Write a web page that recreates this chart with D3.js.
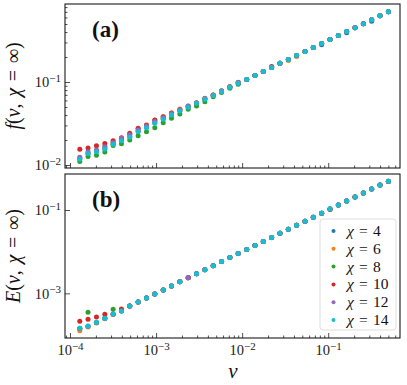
<!DOCTYPE html>
<html>
<head>
<meta charset="utf-8">
<script src="https://cdn.jsdelivr.net/npm/d3@7"></script>
<style>
  html, body { margin: 0; padding: 0; background: #fff; }
  svg { display: block; }
  text { font-family: "Liberation Serif", "DejaVu Serif", serif; }
</style>
</head>
<body>
<script>
// bond dimensions and velocities
const chis = [4, 6, 8, 10, 12, 14];
const v = [0.5, 0.4, 0.32, 0.256, 0.2048, 0.1638, 0.1311, 0.1049, 0.0839, 0.0671,
  0.0537, 0.0429, 0.0344, 0.0275, 0.022, 0.0176, 0.0141, 0.0113, 0.0090, 0.0072,
  0.00576, 0.00461, 0.00369, 0.00295, 0.00236, 0.00189, 0.00151, 0.00121, 0.000967, 0.000774,
  0.000619, 0.000495, 0.000396, 0.000317, 0.000254, 0.000203, 0.000162, 0.00013];

// panel (a): f(v, chi = inf)
const f4 = [0.703, 0.628, 0.540, 0.503, 0.452, 0.392, 0.364, 0.326, 0.282, 0.260,
  0.233, 0.209, 0.187, 0.168, 0.150, 0.134, 0.120, 0.107, 0.0968, 0.0866,
  0.0775, 0.0692, 0.0625, 0.0556, 0.0500, 0.0452, 0.0404, 0.0360, 0.0322, 0.0285,
  0.0255, 0.0220, 0.0198, 0.0180, 0.0158, 0.0146, 0.0137, 0.0120];
const f6 = [0.703, 0.628, 0.562, 0.503, 0.452, 0.406, 0.364, 0.326, 0.292, 0.260,
  0.233, 0.203, 0.182, 0.168, 0.150, 0.134, 0.120, 0.107, 0.0991, 0.0878,
  0.0786, 0.0697, 0.0637, 0.0564, 0.0510, 0.0473, 0.0427, 0.0382, 0.0346, 0.0300,
  0.0272, 0.0236, 0.0208, 0.0188, 0.0168, 0.0150, 0.0140, 0.0122];
const f8 = [0.703, 0.628, 0.562, 0.503, 0.452, 0.406, 0.364, 0.326, 0.292, 0.260,
  0.233, 0.209, 0.187, 0.168, 0.150, 0.134, 0.120, 0.107, 0.0940, 0.0840,
  0.0748, 0.0665, 0.0580, 0.0514, 0.0469, 0.0411, 0.0365, 0.0324, 0.0281, 0.0252,
  0.0225, 0.0200, 0.0180, 0.0172, 0.0143, 0.0131, 0.0127, 0.0110];
const f10 = [0.703, 0.628, 0.562, 0.503, 0.452, 0.406, 0.364, 0.326, 0.292, 0.260,
  0.233, 0.209, 0.187, 0.168, 0.154, 0.134, 0.120, 0.107, 0.0985, 0.0875,
  0.0780, 0.0697, 0.0630, 0.0560, 0.0510, 0.0462, 0.0420, 0.0382, 0.0349, 0.0303,
  0.0277, 0.0241, 0.0213, 0.0196, 0.0182, 0.0171, 0.0160, 0.0155];
const f12 = [0.703, 0.628, 0.562, 0.503, 0.452, 0.406, 0.364, 0.326, 0.292, 0.260,
  0.233, 0.209, 0.187, 0.168, 0.150, 0.134, 0.120, 0.107, 0.0985, 0.0875,
  0.0780, 0.0690, 0.0630, 0.0560, 0.0514, 0.0460, 0.0415, 0.0370, 0.0335, 0.0295,
  0.0265, 0.0232, 0.0210, 0.0186, 0.0166, 0.0152, 0.01445, 0.0124];
const f14 = [0.703, 0.628, 0.562, 0.503, 0.452, 0.406, 0.364, 0.326, 0.292, 0.260,
  0.233, 0.209, 0.187, 0.168, 0.150, 0.134, 0.120, 0.107, 0.0965, 0.0862,
  0.0770, 0.0690, 0.0620, 0.0553, 0.0496, 0.0448, 0.0400, 0.0356, 0.0318, 0.0281,
  0.0252, 0.0216, 0.0196, 0.0178, 0.0156, 0.01445, 0.0138, 0.0117];

// panel (b): E(v, chi = inf)
const e4 = [0.490, 0.400, 0.320, 0.256, 0.205, 0.164, 0.131, 0.103, 0.084, 0.067,
  0.0537, 0.0430, 0.0344, 0.0275, 0.0220, 0.0176, 0.0141, 0.0113, 0.0090, 0.0072,
  0.00577, 0.00461, 0.00369, 0.00295, 0.00236, 0.00189, 0.00151, 0.00121, 0.00097, 0.00077,
  0.00062, 0.000495, 0.000376, 0.000315, 0.000250, 0.000200, 0.000160, 0.000140];
const e6 = [0.485, 0.400, 0.320, 0.252, 0.205, 0.164, 0.131, 0.105, 0.084, 0.067,
  0.0537, 0.0430, 0.0344, 0.0275, 0.0217, 0.0176, 0.0141, 0.0113, 0.0090, 0.0072,
  0.00577, 0.00461, 0.00369, 0.00295, 0.00236, 0.00189, 0.00151, 0.00121, 0.00097, 0.00077,
  0.00062, 0.000495, 0.000380, 0.000310, 0.000245, 0.000195, 0.000155, 0.000127];
const e8 = [0.490, 0.400, 0.320, 0.256, 0.205, 0.164, 0.131, 0.105, 0.084, 0.067,
  0.0537, 0.0430, 0.0344, 0.0275, 0.0220, 0.0176, 0.0141, 0.0113, 0.0090, 0.0072,
  0.00577, 0.00461, 0.00369, 0.00295, 0.00236, 0.00189, 0.00151, 0.00121, 0.00097, 0.00077,
  0.00062, 0.000495, 0.000380, 0.000413, 0.000255, 0.000200, 0.000350, 0.000145];
const e10 = [0.485, 0.400, 0.320, 0.256, 0.205, 0.164, 0.131, 0.105, 0.084, 0.067,
  0.0537, 0.0430, 0.0344, 0.0275, 0.0220, 0.0176, 0.0141, 0.0113, 0.0090, 0.0072,
  0.00577, 0.00461, 0.00369, 0.00295, 0.00236, 0.00189, 0.00151, 0.00121, 0.00097, 0.00077,
  0.00062, 0.000495, 0.000420, 0.000320, 0.000313, 0.000270, 0.000238, 0.000213];
const e12 = [0.490, 0.400, 0.320, 0.256, 0.205, 0.164, 0.131, 0.105, 0.084, 0.067,
  0.0537, 0.0430, 0.0344, 0.0275, 0.0220, 0.0176, 0.0141, 0.0113, 0.0090, 0.0072,
  0.00577, 0.00461, 0.00369, 0.00295, 0.00236, 0.00189, 0.00151, 0.00121, 0.00097, 0.00077,
  0.00062, 0.000495, 0.000376, 0.000319, 0.000250, 0.000200, 0.000162, 0.000143];
const e14 = [0.490, 0.400, 0.320, 0.256, 0.205, 0.164, 0.131, 0.107, 0.084, 0.067,
  0.0537, 0.0430, 0.0344, 0.0275, 0.0220, 0.0176, 0.0141, 0.0113, 0.0090, 0.0072,
  0.00577, 0.00461, 0.00369, 0.00295, null, 0.00189, 0.00151, 0.00121, 0.00097, 0.00077,
  0.00062, 0.000495, 0.000376, 0.000319, 0.000251, 0.000202, 0.000164, 0.000145];

const xMajor = [1e-4, 1e-3, 1e-2, 1e-1];
const yMajorA = [1e-2, 1e-1];
const yMajorB = [1e-3, 1e-1];

const colors = ['#1f77b4', '#ff7f0e', '#2ca02c', '#d62728', '#9467bd', '#17becf'];
const W = 407, H = 385;
const left = 65, right = 400;
const fontFam = '"Liberation Serif", "DejaVu Serif", serif';

const svg = d3.select('body').append('svg').attr('width', W).attr('height', H);

const x = d3.scaleLog().domain([10 ** -4.058, 10 ** -0.166]).range([left, right]);

function minorTicks(lo, hi) {
  const out = [];
  for (let d = Math.floor(Math.log10(lo)); d <= Math.ceil(Math.log10(hi)); d++) {
    for (let m = 2; m <= 9; m++) {
      const t = m * 10 ** d;
      if (t > lo && t < hi) out.push(t);
    }
  }
  return out;
}

function supLabels(g) {
  g.selectAll('.tick text').each(function (d) {
    const t = d3.select(this);
    const p = Math.round(Math.log10(d));
    t.text(null);
    t.append('tspan').text('10');
    t.append('tspan').attr('dy', '-0.5em').attr('font-size', '11px').text('\u2212' + (-p));
  });
}

function drawPanel(cfg) {
  const { top, bottom, y, series, yMajor, yMinor, xLabels } = cfg;
  const g = svg.append('g');

  // points, chi=4 first so chi=14 ends on top
  series.forEach((vals, i) => {
    g.append('g').selectAll('circle')
      .data(vals.map((val, k) => [v[k], val]).filter(p => p[1] != null))
      .join('circle')
      .attr('cx', d => x(d[0]))
      .attr('cy', d => y(d[1]))
      .attr('r', 2.5)
      .attr('fill', colors[i]);
  });

  const xAxis = g.append('g')
    .attr('transform', `translate(0,${bottom})`)
    .call(d3.axisBottom(x).tickValues(xMajor).tickSizeInner(-5).tickSizeOuter(0).tickPadding(7));
  g.append('g')
    .attr('transform', `translate(0,${bottom})`)
    .call(d3.axisBottom(x).tickValues(minorTicks(...x.domain())).tickSizeInner(-2.5).tickSizeOuter(0).tickFormat(''));

  const yAxis = g.append('g')
    .attr('transform', `translate(${left},0)`)
    .call(d3.axisLeft(y).tickValues(yMajor).tickSizeInner(-5).tickSizeOuter(0).tickPadding(4));
  if (yMinor) {
    g.append('g')
      .attr('transform', `translate(${left},0)`)
      .call(d3.axisLeft(y).tickValues(minorTicks(...y.domain())).tickSizeInner(-2.5).tickSizeOuter(0).tickFormat(''));
  }

  g.selectAll('.domain').remove();
  g.selectAll('.tick line').attr('stroke', '#222').attr('stroke-width', 0.8);

  yAxis.attr('font-family', fontFam).attr('font-size', 14.5);
  yAxis.selectAll('.tick text').attr('fill', '#222').attr('dy', '0.33em');
  supLabels(yAxis);

  if (xLabels) {
    xAxis.attr('font-family', fontFam).attr('font-size', 14.5);
    xAxis.selectAll('.tick text').attr('fill', '#222').attr('dy', '0.72em');
    supLabels(xAxis);
  } else {
    xAxis.selectAll('.tick text').remove();
  }

  g.append('rect')
    .attr('x', left).attr('y', top)
    .attr('width', right - left).attr('height', bottom - top)
    .attr('fill', 'none')
    .attr('stroke', '#1a1a1a')
    .attr('stroke-width', 1.1);

  return g;
}

const yA = d3.scaleLog().domain([10 ** -2.036, 10 ** -0.060]).range([168, 4]);
const yB = d3.scaleLog().domain([10 ** -4.072, 10 ** -0.136]).range([338, 174]);

drawPanel({ top: 4, bottom: 168, y: yA, series: [f4, f6, f8, f10, f12, f14], yMajor: yMajorA, yMinor: true, xLabels: false });
drawPanel({ top: 174, bottom: 338, y: yB, series: [e4, e6, e8, e10, e12, e14], yMajor: yMajorB, yMinor: false, xLabels: true });

// panel tags
svg.append('text').attr('x', 92).attr('y', 37)
  .attr('font-size', 23).attr('font-weight', 'bold').attr('fill', '#111').text('(a)');
svg.append('text').attr('x', 92).attr('y', 207)
  .attr('font-size', 23).attr('font-weight', 'bold').attr('fill', '#111').text('(b)');

// axis titles
const sp = '\u2004';
function yTitle(letter, cy) {
  const t = svg.append('text')
    .attr('transform', `translate(20,${cy}) rotate(-90)`)
    .attr('text-anchor', 'middle')
    .attr('font-size', 20).attr('fill', '#111');
  t.append('tspan').attr('font-style', 'italic').text(letter);
  t.append('tspan').text('(');
  t.append('tspan').attr('font-style', 'italic').text('v');
  t.append('tspan').text(',' + sp);
  t.append('tspan').attr('font-style', 'italic').text('\u03c7');
  t.append('tspan').text(sp + '=' + sp + '\u221e)');
}
yTitle('f', 86);
yTitle('E', 256);

svg.append('text').attr('x', 233).attr('y', 378)
  .attr('text-anchor', 'middle').attr('font-size', 21)
  .attr('font-style', 'italic').attr('fill', '#111').text('v');

// legend
const leg = svg.append('g').attr('transform', 'translate(320,219)');
leg.append('rect')
  .attr('width', 76).attr('height', 111).attr('rx', 3)
  .attr('fill', '#fff').attr('fill-opacity', 0.8)
  .attr('stroke', '#d6d6d6').attr('stroke-width', 0.8);
chis.forEach((c, i) => {
  const row = leg.append('g').attr('transform', `translate(0,${12 + i * 17.8})`);
  row.append('circle').attr('cx', 13.5).attr('cy', 0).attr('r', 2).attr('fill', colors[i]);
  const t = row.append('text').attr('x', 27).attr('y', 5).attr('font-size', 15.5).attr('fill', '#111');
  t.append('tspan').attr('font-style', 'italic').text('\u03c7');
  t.append('tspan').text(sp + '=' + sp + c);
});
</script>
</body>
</html>
